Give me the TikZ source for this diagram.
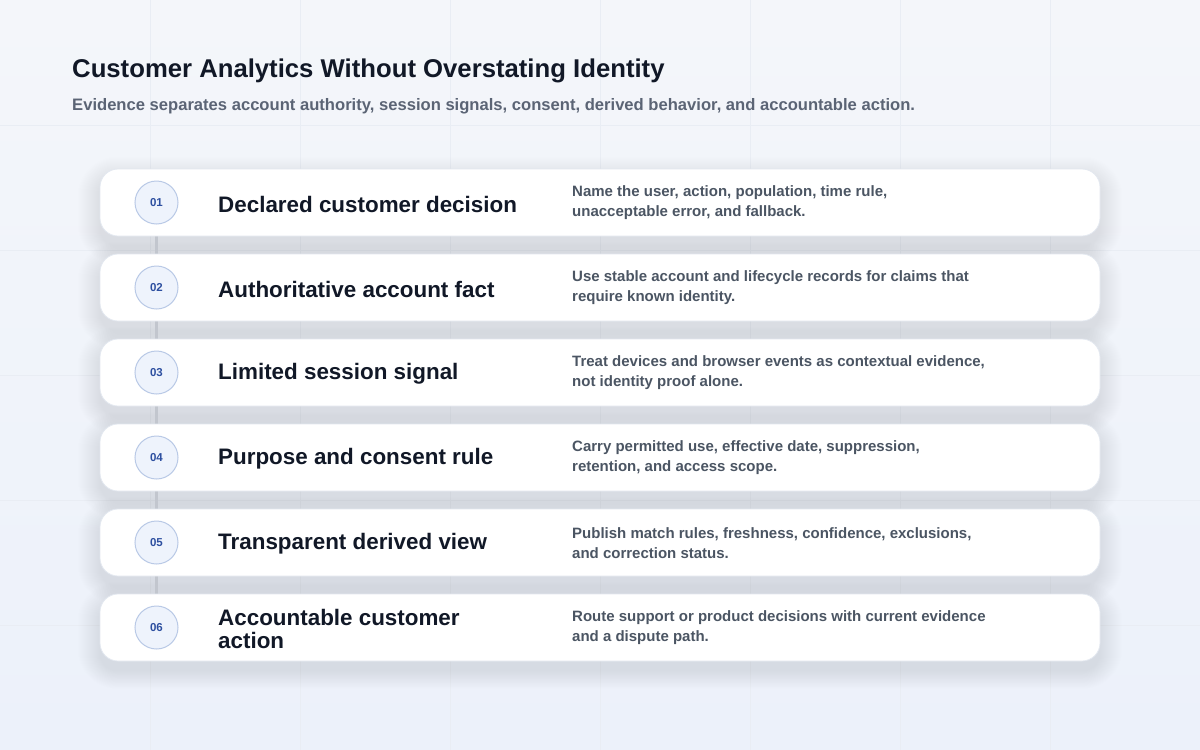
\documentclass[tikz,border=0pt]{standalone}
\usepackage{fontspec}
\setmainfont{Liberation Sans}
\definecolor{bgtop}{HTML}{F4F6FA}
\definecolor{bgbot}{HTML}{ECF1FA}
\definecolor{gridcol}{HTML}{E9EDF4}
\definecolor{titlecol}{HTML}{111827}
\definecolor{subcol}{HTML}{5B6475}
\definecolor{desccol}{HTML}{4B5563}
\definecolor{circfill}{HTML}{EEF3FC}
\definecolor{circdraw}{HTML}{B9C9E6}
\definecolor{numcol}{HTML}{2D4FA0}
\definecolor{conncol}{HTML}{C2C6CE}
\definecolor{cardedge}{HTML}{E3E8F0}
\definecolor{shadowcol}{HTML}{1E2A4A}
\pgfdeclarelayer{background}
\pgfdeclarelayer{shadowlayer}
\pgfdeclarelayer{connlayer}
\pgfsetlayers{background,shadowlayer,connlayer,main}
\begin{document}
\begin{tikzpicture}[x=1pt,y=-1pt,
  gridline/.style={draw=gridcol,line width=0.7pt},
  card/.style={draw=cardedge,line width=0.8pt,fill=white,rounded corners=18pt,minimum width=1000pt,minimum height=67pt,inner sep=0pt},
  shadowpiece/.style={fill=shadowcol,opacity=0.0038},
  numcirc/.style={circle,draw=circdraw,line width=1pt,fill=circfill,minimum size=43pt,inner sep=0pt,text=numcol,font=\bfseries\fontsize{11.5}{13}\selectfont},
  steptitle/.style={anchor=west,align=left,inner sep=0pt,text=titlecol,font=\bfseries\fontsize{22.4}{23}\selectfont},
  stepdesc/.style={anchor=west,align=left,inner sep=0pt,text=desccol,font=\bfseries\fontsize{15}{20}\selectfont},
  connline/.style={draw=conncol,line width=3pt}
]
\useasboundingbox (0,0) rectangle (1200,750);
\begin{pgfonlayer}{background}
\shade[top color=bgtop,bottom color=bgbot] (0,0) rectangle (1200,750);
\foreach \gx in {150,300,...,1050} \draw[gridline] (\gx,0) -- (\gx,750);
\foreach \gy in {125,250,...,625} \draw[gridline] (0,\gy) -- (1200,\gy);
\end{pgfonlayer}

\node[anchor=base west,inner sep=0pt,text=titlecol,font=\bfseries\fontsize{25.7}{30}\selectfont] (title) at (72,77) {Customer Analytics Without Overstating Identity};
\node[anchor=base west,inner sep=0pt,text=subcol,font=\bfseries\fontsize{16.6}{20}\selectfont] (subtitle) at (72,110) {Evidence separates account authority, session signals, consent, derived behavior, and accountable action.};

\foreach \i/\cy/\ttl/\dsc in {
  1/202.5/{Declared customer decision}/{Name the user, action, population, time rule,\\unacceptable error, and fallback.},
  2/287.5/{Authoritative account fact}/{Use stable account and lifecycle records for claims that\\require known identity.},
  3/372.5/{Limited session signal}/{Treat devices and browser events as contextual evidence,\\not identity proof alone.},
  4/457.5/{Purpose and consent rule}/{Carry permitted use, effective date, suppression,\\retention, and access scope.},
  5/542.5/{Transparent derived view}/{Publish match rules, freshness, confidence, exclusions,\\and correction status.},
  6/627.5/{Accountable customer\\action}/{Route support or product decisions with current evidence\\and a dispute path.}}{
  \node[card] (card\i) at (600,\cy) {};
  \begin{pgfonlayer}{shadowlayer}
    \foreach \k in {0,...,22}{
      \pgfmathsetmacro\rr{18+\k}
      \fill[shadowpiece,rounded corners=\rr pt] ([shift={(-\k,10-\k)}]card\i.north west) rectangle ([shift={(\k,10+0.8*\k)}]card\i.south east);
    }
  \end{pgfonlayer}
  \node[numcirc] (num\i) at (156.5,\cy) {0\i};
  \node[steptitle] (ttl\i) at (218,\cy+1.5) {\ttl};
  \node[stepdesc] (dsc\i) at (572,\cy+0.5) {\dsc};
}
\begin{pgfonlayer}{connlayer}
\foreach \a/\b in {1/2,2/3,3/4,4/5,5/6} \draw[connline] (num\a.south) -- (num\b.north);
\end{pgfonlayer}
\end{tikzpicture}
\end{document}
